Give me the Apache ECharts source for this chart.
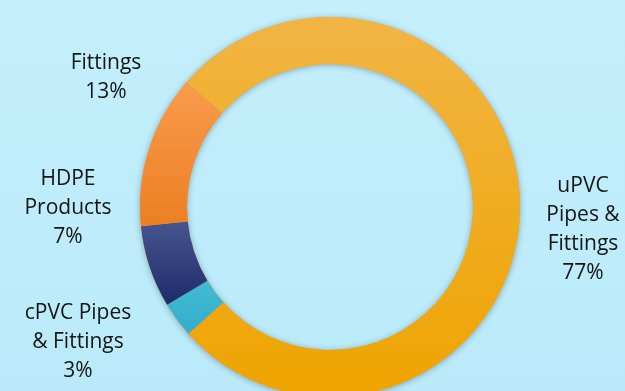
<!DOCTYPE html>
<html>
<head>
<meta charset="utf-8">
<script src="https://cdn.jsdelivr.net/npm/echarts@6/dist/echarts.min.js"></script>
<style>
html,body{margin:0;padding:0;background:#bfecfa;}
#c{width:625px;height:391px;}
</style>
</head>
<body>
<div id="c"></div>
<script>
const categories = ['uPVC\nPipes &\nFittings', 'cPVC Pipes\n& Fittings', 'HDPE\nProducts', 'Fittings'];
const values = [77, 3, 7, 13];

const colorStops = [
  ['#F2B544', '#EEA400'],
  ['#43BBD3', '#33ADCB'],
  ['#46558F', '#1E2B6A'],
  ['#F99B4E', '#EC7F22']
];
const labelPos = [
  [583, 230],
  [78, 342],
  [68, 208],
  [106, 78]
];

const chart = echarts.init(document.getElementById('c'), null, {renderer: 'canvas'});
const common = {
  type: 'pie',
  center: [330, 207],
  radius: [143, 190],
  startAngle: 139,
  clockwise: true,
  avoidLabelOverlap: false,
  labelLine: {show: false},
  emphasis: {disabled: true},
  silent: true
};
chart.setOption({
  backgroundColor: new echarts.graphic.LinearGradient(0, 0, 0, 1, [
    {offset: 0, color: '#C4EFFC'},
    {offset: 1, color: '#BAEAF9'}
  ]),
  animation: false,
  series: [
    Object.assign({}, common, {
      z: 1,
      label: {show: false},
      itemStyle: {
        color: '#E9A62A',
        shadowBlur: 6,
        shadowColor: 'rgba(40,60,80,0.4)',
        shadowOffsetY: 1
      },
      data: categories.map((n, i) => ({name: n, value: values[i]}))
    }),
    Object.assign({}, common, {
      z: 2,
      label: {
        show: true,
        position: 'outside',
        formatter: '{b}\n{c}%',
        color: '#151515',
        fontFamily: 'Open Sans',
        fontSize: 21,
        lineHeight: 29,
        align: 'center'
      },
      labelLayout: function (p) {
        const pos = labelPos[p.dataIndex];
        return {x: pos[0], y: pos[1], align: 'center', verticalAlign: 'middle'};
      },
      data: categories.map((n, i) => ({
        name: n,
        value: values[i],
        itemStyle: {
          color: new echarts.graphic.LinearGradient(0, 0, 0, 1, [
            {offset: 0, color: colorStops[i][0]},
            {offset: 1, color: colorStops[i][1]}
          ])
        }
      }))
    })
  ]
});
</script>
</body>
</html>
